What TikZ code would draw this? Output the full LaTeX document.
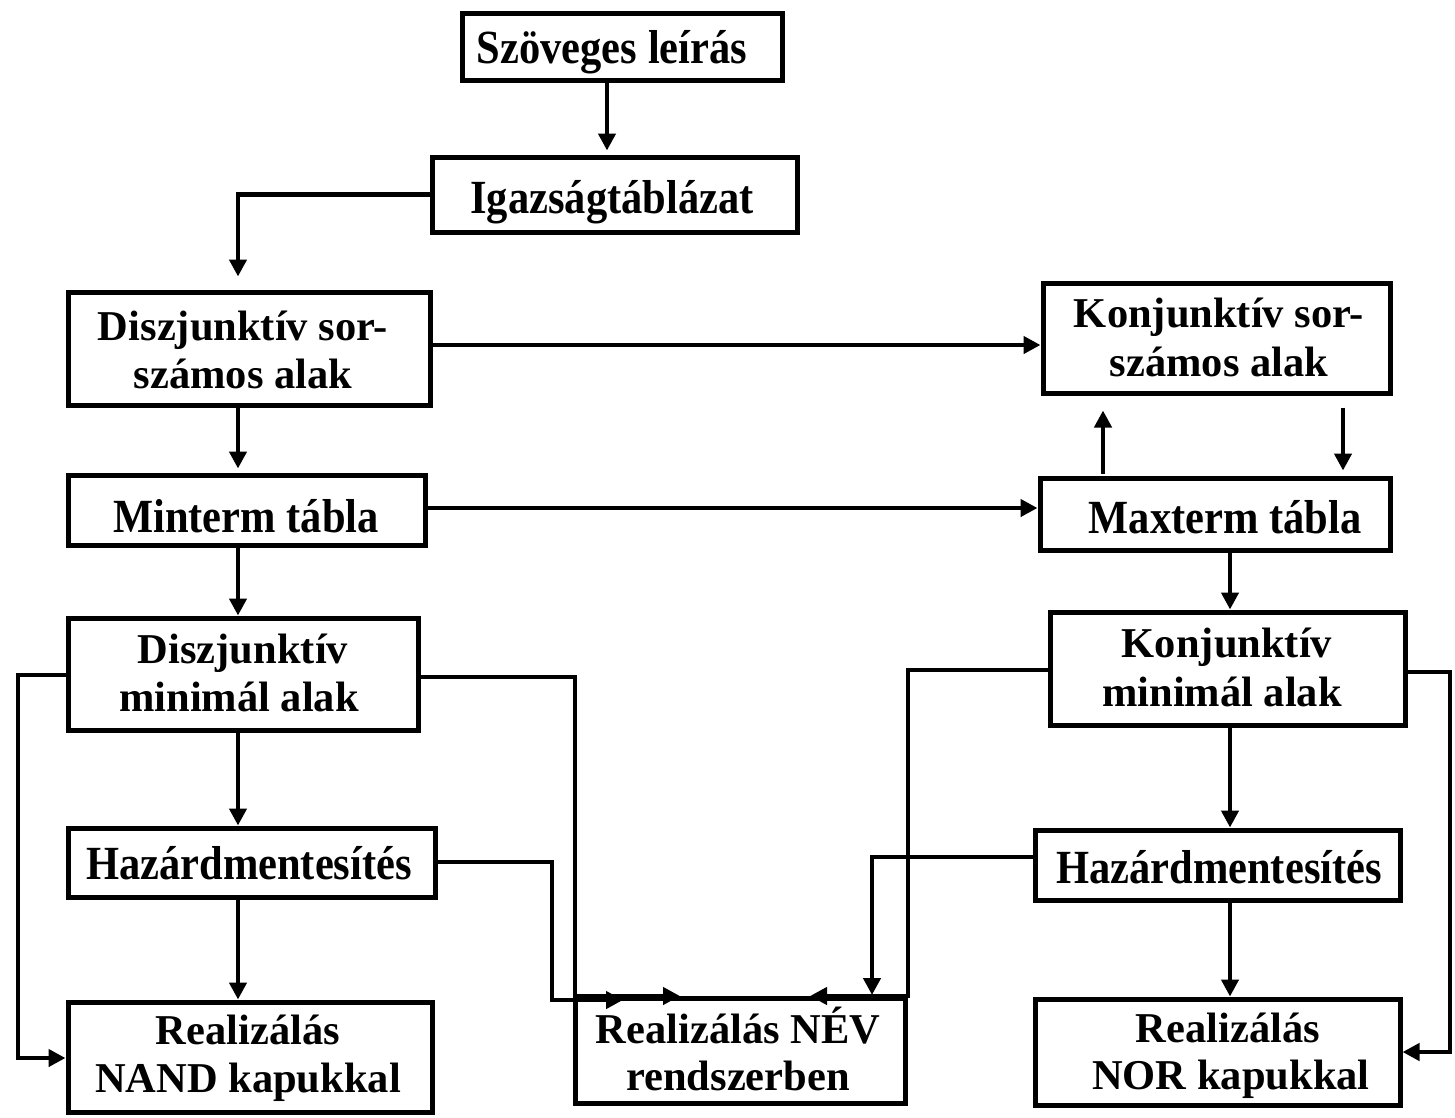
\documentclass[tikz,border=0pt]{standalone}
\usepackage{graphicx}
\usepackage{fontspec}
\setmainfont{Liberation Serif}
\usetikzlibrary{arrows.meta}
\newcommand{\tall}[1]{\scalebox{1}[1.12]{#1}}
\begin{document}
\begin{tikzpicture}[x=1pt,y=-1pt,
  box/.style={draw,line width=5pt,rectangle,inner sep=0pt},
  txt/.style={anchor=base,inner sep=0pt,font=\fontsize{42.5}{48}\selectfont\bfseries},
  arr/.style={line width=4.5pt,-{Triangle[length=17pt,width=17pt]}}]
\useasboundingbox (0,0) rectangle (1455,1117);
% boxes
\node[box,minimum width=320pt,minimum height=67pt] (szov) at (622,46.5) {};
\node[box,minimum width=365pt,minimum height=75pt] (igaz) at (614.5,194.5) {};
\node[box,minimum width=362pt,minimum height=113pt] (dsor) at (249,348.5) {};
\node[box,minimum width=347pt,minimum height=110pt] (ksor) at (1216.5,338) {};
\node[box,minimum width=357pt,minimum height=70pt] (mint) at (246.5,510) {};
\node[box,minimum width=350pt,minimum height=72pt] (maxt) at (1215,514) {};
\node[box,minimum width=350pt,minimum height=112pt] (dmin) at (243,674) {};
\node[box,minimum width=355pt,minimum height=113pt] (kmin) at (1227.5,668.5) {};
\node[box,minimum width=367pt,minimum height=69pt] (hazl) at (251.5,862.5) {};
\node[box,minimum width=365pt,minimum height=70pt] (hazr) at (1217.5,865) {};
\node[box,minimum width=364pt,minimum height=110pt] (nand) at (250,1057) {};
\node[box,minimum width=330pt,minimum height=105pt] (nev) at (740,1050.5) {};
\node[box,minimum width=365pt,minimum height=106pt] (nor) at (1217.5,1052) {};
% box texts, placed on their baselines
\node[txt] (szovT) at (612,63) {\tall{Szöveges leírás}};
\node[txt] (igazT) at (612,213) {\tall{Igazságtáblázat}};
\node[txt] (dsorT1) at (243,340) {Diszjunktív sor-};
\node[txt] (dsorT2) at (243,388) {számos alak};
\node[txt] (ksorT1) at (1219,327) {Konjunktív sor-};
\node[txt] (ksorT2) at (1219,376) {számos alak};
\node[txt] (mintT) at (246,532) {\tall{Minterm tábla}};
\node[txt] (maxtT) at (1225,533) {\tall{Maxterm tábla}};
\node[txt] (dminT1) at (243,663) {Diszjunktív};
\node[txt] (dminT2) at (239,711) {minimál alak};
\node[txt] (kminT1) at (1227,657) {Konjunktív};
\node[txt] (kminT2) at (1222,706) {minimál alak};
\node[txt] (hazlT) at (249,879) {\tall{Hazárdmentesítés}};
\node[txt] (hazrT) at (1219,883) {\tall{Hazárdmentesítés}};
\node[txt] (nandT1) at (248,1044) {Realizálás};
\node[txt] (nandT2) at (248,1092) {NAND kapukkal};
\node[txt] (nevT1) at (738,1043) {Realizálás NÉV};
\node[txt] (nevT2) at (738,1090) {rendszerben};
\node[txt] (norT1) at (1228,1042) {Realizálás};
\node[txt] (norT2) at (1231,1089) {NOR kapukkal};
% main flow (yshift is in page units: positive moves up)
\draw[arr] (szov.south -| 607,0) -- ([yshift=4pt]igaz.north -| 607,0);
\draw[arr] (igaz.west) -| ([yshift=13pt]dsor.north -| 238,0);
\draw[arr] (dsor.east |- 0,345) -- (ksor.west |- 0,345);
\draw[arr] (dsor.south -| 238,0) -- ([yshift=4pt]mint.north -| 238,0);
\draw[arr] (mint.east |- 0,508) -- (maxt.west |- 0,508);
\draw[arr] ([yshift=2pt]maxt.north -| 1103,0) -- ([yshift=-15pt]ksor.south -| 1103,0);
\draw[arr] ([yshift=-12pt]ksor.south -| 1343,0) -- ([yshift=5pt]maxt.north -| 1343,0);
\draw[arr] (mint.south -| 238,0) -- (dmin.north -| 238,0);
\draw[arr] (maxt.south -| 1230,0) -- (kmin.north -| 1230,0);
\draw[arr] (dmin.south -| 238,0) -- (hazl.north -| 238,0);
\draw[arr] (kmin.south -| 1230,0) -- (hazr.north -| 1230,0);
\draw[arr] (hazl.south -| 238,0) -- (nand.north -| 238,0);
\draw[arr] (hazr.south -| 1230,0) -- (nor.north -| 1230,0);
% side loops to the gate realizations
\draw[arr] (dmin.west |- 0,675) -- (18,675) |- (nand.west |- 0,1058);
\draw[arr] (kmin.east |- 0,672) -- (1450,672) |- (nor.east |- 0,1052);
% paths into the NEV realization
\coordinate (nevA) at (680,996);
\coordinate (nevB) at (623,1000);
\coordinate (nevC) at (810,996);
\coordinate (nevD) at (872,995);
\draw[arr] (dmin.east |- 0,677) -- (575,677) |- (nevA);
\draw[arr] (hazl.east |- 0,862) -- (552,862) |- (nevB);
\draw[arr] (kmin.west |- 0,670) -- (908,670) |- (nevC);
\draw[arr] (hazr.west |- 0,857) -| (nevD);
\end{tikzpicture}
\end{document}
